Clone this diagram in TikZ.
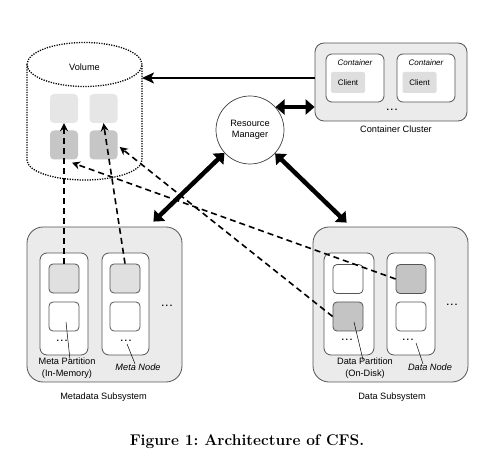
\documentclass[tikz,border=0pt]{standalone}
\usepackage{fontspec}
\newfontfamily\dsans{Liberation Sans}
\usetikzlibrary{arrows.meta,calc}
\definecolor{sysfill}{HTML}{EBEBEB}
\definecolor{clientfill}{HTML}{DEDEDE}
\definecolor{vlight}{HTML}{E6E6E6}
\definecolor{vdark}{HTML}{C6C6C6}
\definecolor{metafill}{HTML}{E0E0E0}
\definecolor{datafill}{HTML}{C4C4C4}
\definecolor{edgec}{HTML}{555555}
\newcommand{\mydots}{.\hspace{1.6pt}.\hspace{1.6pt}.}
\begin{document}
\begin{tikzpicture}[x=1pt,y=-1pt,
  lbl/.style={font=\dsans\fontsize{9.2}{11.5}\selectfont, inner sep=0, align=center},
  itlbl/.style={font=\dsans\fontsize{9.2}{11.5}\selectfont\itshape, inner sep=0},
  smlbl/.style={font=\dsans\fontsize{8}{9.5}\selectfont, inner sep=0},
  dotslbl/.style={font=\dsans\fontsize{9}{10}\selectfont\bfseries, inner sep=0},
  sysbox/.style={draw=edgec, line width=0.8pt, fill=sysfill, rounded corners=16pt, minimum width=155pt, minimum height=155pt, inner sep=0},
  nodebox/.style={draw=edgec, line width=0.8pt, fill=white, rounded corners=7pt, minimum height=102pt, inner sep=0},
  sq/.style={draw=edgec, line width=0.8pt, rounded corners=4pt, minimum width=30pt, minimum height=29pt, inner sep=0},
  vsq/.style={rounded corners=4pt, minimum width=28pt, minimum height=29pt, inner sep=0},
  vol/.style={line width=1.3pt, dash pattern=on 1.2pt off 1.3pt},
  bigarrow/.style={line width=4.5pt, {Triangle[length=9pt,width=15pt]}-{Triangle[length=9pt,width=15pt]}},
  dasharrow/.style={line width=1.6pt, dash pattern=on 6pt off 4pt, -{Stealth[length=8pt,width=8pt]}},
  leader/.style={line width=0.5pt},
]
\useasboundingbox (0,0) rectangle (488,457);
\fill[white] (0,0) rectangle (488,457);

% Volume cylinder
\draw[vol] (84.5,64.5) ellipse [x radius=57.5pt, y radius=22pt];
\draw[vol] (27,64.5) -- (27,160) arc[start angle=180, end angle=360, x radius=57.5pt, y radius=20pt] -- (142,64.5);
\node[lbl] (vol) at (84.5,67) {Volume};
\node[vsq, fill=vlight] (vl1) at (64,108.5) {};
\node[vsq, fill=vlight] (vl2) at (103.5,108.5) {};
\node[vsq, fill=vdark] (vd1) at (64,145) {};
\node[vsq, fill=vdark] (vd2) at (103.5,145) {};

% Container cluster
\node[draw=edgec, line width=0.8pt, fill=sysfill, rounded corners=9pt, minimum width=152pt, minimum height=78pt, inner sep=0] (cc) at (391,82) {};
\node[draw=edgec, line width=0.8pt, fill=white, rounded corners=6pt, minimum width=58pt, minimum height=48pt, inner sep=0] (ct1) at (355,78) {};
\node[draw=edgec, line width=0.8pt, fill=white, rounded corners=6pt, minimum width=58pt, minimum height=48pt, inner sep=0] (ct2) at (426,78) {};
\node[smlbl, font=\dsans\fontsize{8}{9.5}\selectfont\itshape] (ct1l) at (355,63) {Container};
\node[smlbl, font=\dsans\fontsize{8}{9.5}\selectfont\itshape] (ct2l) at (426,63) {Container};
\node[fill=clientfill, rounded corners=2pt, minimum width=34pt, minimum height=21pt, inner sep=0, smlbl] (cl1) at (348,82.5) {Client};
\node[fill=clientfill, rounded corners=2pt, minimum width=34pt, minimum height=21pt, inner sep=0, smlbl] (cl2) at (419.5,82.5) {Client};
\node[dotslbl] (ccdots) at (392,109.5) {\mydots};
\node[lbl] (ccl) at (396,129) {Container Cluster};

% Resource manager
\node[draw=black!75, line width=0.7pt, circle, minimum size=68pt, inner sep=0, lbl, fill=white] (rm) at (250,130) {Resource\\Manager};

% Metadata subsystem
\node[sysbox] (ms) at (104.5,304.5) {};
\node[nodebox, minimum width=48pt] (mn1) at (64,304) {};
\node[nodebox, minimum width=47pt] (mn2) at (125.5,304) {};
\node[sq, fill=metafill] (ms1a) at (64,278.5) {};
\node[sq, fill=white] (ms1b) at (64,316.5) {};
\node[sq, fill=metafill] (ms2a) at (125,278.5) {};
\node[sq, fill=white] (ms2b) at (125,316.5) {};
\node[dotslbl] (md1) at (62,341) {\mydots};
\node[dotslbl] (md2) at (126,341) {\mydots};
\node[dotslbl] (md3) at (167,306) {\mydots};
\node[lbl] (mpl) at (67,368) {Meta Partition\\(In-Memory)};
\node[itlbl] (mnl) at (138,367.5) {Meta Node};
\node[lbl] (msl) at (103.5,397) {Metadata Subsystem};
\draw[leader] ($(mpl.north)+(3,2)$) -- ($(ms1b.center)+(2,5.5)$);
\draw[leader] ($(mnl.north)+(-3,0)$) -- ($(md2.south)+(1,2)$);

% Data subsystem
\node[sysbox] (ds) at (390.5,304.5) {};
\node[nodebox, minimum width=50pt] (dn1) at (349,304) {};
\node[nodebox, minimum width=48pt] (dn2) at (411,304) {};
\node[sq, fill=white] (ds1a) at (348,279) {};
\node[sq, fill=datafill] (ds1b) at (348,316.5) {};
\node[sq, fill=datafill] (ds2a) at (411,279) {};
\node[sq, fill=white] (ds2b) at (411,316.5) {};
\node[dotslbl] (dd1) at (347,340) {\mydots};
\node[dotslbl] (dd2) at (408,340) {\mydots};
\node[dotslbl] (dd3) at (452,305) {\mydots};
\node[lbl] (dpl) at (365,368) {Data Partition\\(On-Disk)};
\node[itlbl] (dnl) at (430,367.5) {Data Node};
\node[lbl] (dsl) at (392,397) {Data Subsystem};
\draw[leader] ($(dpl.north)+(-2,2)$) -- ($(ds1b.center)+(6,5.5)$);
\draw[leader] ($(dnl.north)+(-7,0)$) -- ($(dd2.south)+(8,2)$);

% Dashed connectors
\draw[dasharrow] (ms1a.north) -- (vl1.south);
\draw[dasharrow] (ms2a.north) -- (vl2.south);
\draw[dasharrow] (ds2a.west) -- ($(vd1.south)+(8,3)$);
\draw[dasharrow] (ds1b.west) -- ($(vd2.east)+(2,2)$);

% Solid connectors
\coordinate (volR) at (142,78);
\draw[line width=2pt, -{Stealth[length=12pt,width=11pt,inset=3pt]}] (cc.west |- volR) -- (volR);
\draw[bigarrow] (rm.42) -- (rm.42 -| cc.west);
\draw[bigarrow] (rm.222) -- ($(ms.north east)+(-29,-5)$);
\draw[bigarrow] (rm.317) -- ($(ds.north west)+(34,-4)$);

% Caption
\node[font=\fontsize{15.5}{18}\selectfont\bfseries, inner sep=0] (cap) at (247,442) {Figure 1:~Architecture of CFS.};
\end{tikzpicture}
\end{document}
